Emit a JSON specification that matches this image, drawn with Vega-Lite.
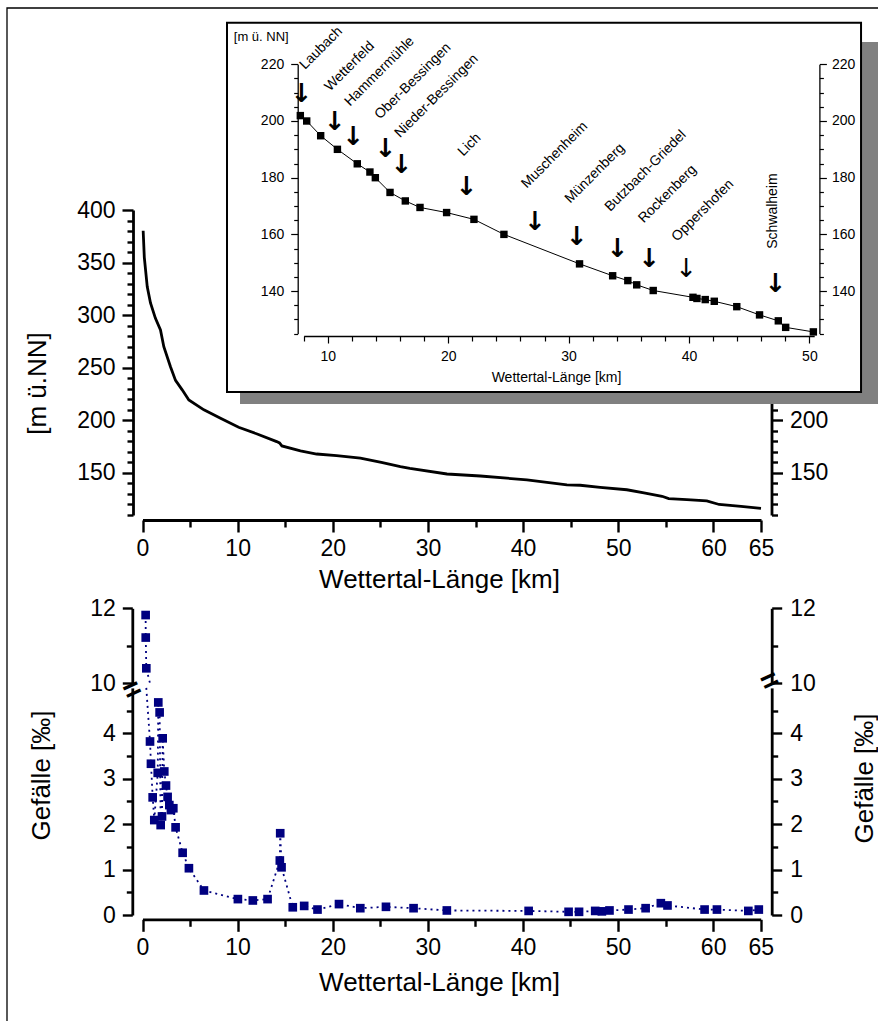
{
  "$schema": "https://vega.github.io/schema/vega-lite/v6.json",
  "width": 871,
  "height": 1013,
  "autosize": "none",
  "padding": {"left": 7, "top": 8, "right": 0, "bottom": 0},
  "background": "white",
  "config": {
    "view": {"stroke": null},
    "axis": {"grid": false, "labelFont": "Liberation Sans", "titleFont": "Liberation Sans", "labelColor": "black", "titleColor": "black", "domainColor": "black", "tickColor": "black", "labelFlush": false, "labelOverlap": false, "titleFontWeight": "normal"},
    "text": {"font": "Liberation Sans", "color": "black"}
  },
  "datasets": {
    "profile": [
      {"km": 0.07, "h": 380.3}, {"km": 0.19, "h": 355}, {"km": 0.5, "h": 327}, {"km": 0.84, "h": 311.6},
      {"km": 1.36, "h": 297}, {"km": 1.89, "h": 286}, {"km": 2.24, "h": 270}, {"km": 2.94, "h": 251},
      {"km": 3.47, "h": 238}, {"km": 4.17, "h": 229}, {"km": 4.87, "h": 219.4}, {"km": 6.45, "h": 210},
      {"km": 8.2, "h": 202}, {"km": 10.1, "h": 193.4}, {"km": 12.05, "h": 187}, {"km": 14.1, "h": 179.8},
      {"km": 14.4, "h": 178.5}, {"km": 14.65, "h": 175.7}, {"km": 16.6, "h": 171}, {"km": 18.3, "h": 168},
      {"km": 20.4, "h": 166.5}, {"km": 22.9, "h": 164}, {"km": 25.1, "h": 160}, {"km": 27.1, "h": 156},
      {"km": 28.1, "h": 154.4}, {"km": 32.0, "h": 149}, {"km": 35.5, "h": 147.1}, {"km": 40.4, "h": 143.4},
      {"km": 44.6, "h": 138.6}, {"km": 46.0, "h": 138.3}, {"km": 48.1, "h": 136.3}, {"km": 50.9, "h": 134},
      {"km": 52.7, "h": 131}, {"km": 54.6, "h": 127.8}, {"km": 55.3, "h": 125.6}, {"km": 57.2, "h": 124.6},
      {"km": 59.3, "h": 123.4}, {"km": 60.6, "h": 120}, {"km": 62.9, "h": 118.2}, {"km": 65, "h": 116.4}
    ],
    "inset": [
      {"km": 7.72, "h": 201.9}, {"km": 8.25, "h": 200}, {"km": 9.41, "h": 194.8}, {"km": 10.8, "h": 190},
      {"km": 12.45, "h": 184.9}, {"km": 13.5, "h": 182}, {"km": 13.95, "h": 180}, {"km": 15.17, "h": 174.8},
      {"km": 16.44, "h": 171.8}, {"km": 17.66, "h": 169.5}, {"km": 19.87, "h": 167.7}, {"km": 22.14, "h": 165.3},
      {"km": 24.63, "h": 160}, {"km": 30.91, "h": 149.6}, {"km": 33.66, "h": 145.4}, {"km": 34.92, "h": 143.7},
      {"km": 35.66, "h": 142.2}, {"km": 37.03, "h": 140.2}, {"km": 40.33, "h": 137.8}, {"km": 40.66, "h": 137.4},
      {"km": 41.35, "h": 137}, {"km": 42.1, "h": 136.4}, {"km": 43.97, "h": 134.5}, {"km": 45.86, "h": 131.6},
      {"km": 47.42, "h": 129.5}, {"km": 48.03, "h": 127.2}, {"km": 50.33, "h": 125.6}
    ],
    "orte": [
      {"ort": "Laubach", "km": 7.83, "tip": 206.8, "lkm": 8.11, "lh": 218.0},
      {"ort": "Wetterfeld", "km": 10.6, "tip": 196.8, "lkm": 10.18, "lh": 210.3},
      {"ort": "Hammermühle", "km": 12.12, "tip": 191.5, "lkm": 11.84, "lh": 205.0},
      {"ort": "Ober-Bessingen", "km": 14.81, "tip": 187.4, "lkm": 14.34, "lh": 200.4},
      {"ort": "Nieder-Bessingen", "km": 16.14, "tip": 181.8, "lkm": 16.0, "lh": 193.9},
      {"ort": "Lich", "km": 21.54, "tip": 173.9, "lkm": 21.25, "lh": 187.4},
      {"ort": "Muschenheim", "km": 27.22, "tip": 161.4, "lkm": 26.52, "lh": 176.1},
      {"ort": "Münzenberg", "km": 30.69, "tip": 156.1, "lkm": 30.13, "lh": 170.8},
      {"ort": "Butzbach-Griedel", "km": 34.07, "tip": 152.0, "lkm": 33.46, "lh": 167.9},
      {"ort": "Rockenberg", "km": 36.71, "tip": 148.4, "lkm": 36.24, "lh": 163.8},
      {"ort": "Oppershofen", "km": 39.77, "tip": 144.9, "lkm": 39.01, "lh": 157.3},
      {"ort": "Schwalheim", "km": 47.2, "tip": 139.5, "lkm": 46.94, "lh": 154.9}
    ],
    "gef": [
      {"km": 0.33, "g": 11.82}, {"km": 0.34, "g": 11.22}, {"km": 0.4, "g": 10.4}, {"km": 0.79, "g": 3.82},
      {"km": 0.89, "g": 3.33}, {"km": 1.07, "g": 2.59}, {"km": 1.24, "g": 2.09}, {"km": 1.6, "g": 3.13},
      {"km": 1.66, "g": 4.68}, {"km": 1.8, "g": 4.46}, {"km": 1.91, "g": 1.98}, {"km": 2.05, "g": 2.17},
      {"km": 2.12, "g": 3.89}, {"km": 2.29, "g": 3.16}, {"km": 2.47, "g": 2.85}, {"km": 2.64, "g": 2.6},
      {"km": 2.82, "g": 2.42}, {"km": 2.99, "g": 2.31}, {"km": 3.24, "g": 2.35}, {"km": 3.48, "g": 1.93},
      {"km": 4.22, "g": 1.37}, {"km": 4.88, "g": 1.03}, {"km": 6.46, "g": 0.54}, {"km": 10.03, "g": 0.35},
      {"km": 11.6, "g": 0.32}, {"km": 13.15, "g": 0.35}, {"km": 14.44, "g": 1.2}, {"km": 14.48, "g": 1.8},
      {"km": 14.62, "g": 1.05}, {"km": 15.8, "g": 0.17}, {"km": 17.0, "g": 0.2}, {"km": 18.4, "g": 0.12},
      {"km": 20.66, "g": 0.24}, {"km": 22.9, "g": 0.15}, {"km": 25.6, "g": 0.18}, {"km": 28.5, "g": 0.15},
      {"km": 32.0, "g": 0.1}, {"km": 40.6, "g": 0.09}, {"km": 44.8, "g": 0.07}, {"km": 45.9, "g": 0.07},
      {"km": 47.6, "g": 0.09}, {"km": 48.3, "g": 0.08}, {"km": 49.1, "g": 0.1}, {"km": 51.1, "g": 0.12},
      {"km": 52.9, "g": 0.15}, {"km": 54.5, "g": 0.26}, {"km": 55.2, "g": 0.21}, {"km": 59.1, "g": 0.12},
      {"km": 60.4, "g": 0.12}, {"km": 63.7, "g": 0.09}, {"km": 64.8, "g": 0.12}
    ]
  },
  "resolve": {"scale": {"x": "independent", "y": "independent"}},
  "layer": [
    {
      "data": {"values": [{}]},
      "mark": {"type": "rect", "fill": null, "filled": false, "stroke": "black", "strokeWidth": 1.3},
      "encoding": {
        "x": {"datum": -14.24, "type": "quantitative", "scale": {"domain": [0, 65], "range": [135.5, 754], "nice": false, "zero": false}, "axis": null},
        "x2": {"datum": 80.34},
        "y": {"datum": 592.07, "type": "quantitative", "scale": {"domain": [110, 400], "range": [507, 202], "nice": false, "zero": false}, "axis": null},
        "y2": {"datum": -453.84}
      }
    },
    {
      "data": {"name": "profile"},
      "mark": {"type": "line", "color": "black", "strokeWidth": 2.8},
      "encoding": {
        "x": {"field": "km", "type": "quantitative",
          "scale": {"domain": [0, 65], "range": [135.5, 754], "nice": false, "zero": false},
          "axis": {"orient": "bottom", "offset": -501, "values": [0,5,10,15,20,25,30,35,40,45,50,55,60,65],
            "labelExpr": "datum.value % 10 === 0 || datum.value === 65 ? format(datum.value, 'd') : ''",
            "tickSize": {"condition": {"test": "datum.value % 10 === 0 || datum.value === 65", "value": 12}, "value": 7},
            "tickWidth": 2.4, "domainWidth": 2.8, "labelFontSize": 23, "labelPadding": 5,
            "title": "Wettertal-Länge [km]", "titleFontSize": 26, "titleX": 432, "titleY": 59, "titleBaseline": "middle"}},
        "y": {"field": "h", "type": "quantitative",
          "scale": {"domain": [110, 400], "range": [507, 202], "nice": false, "zero": false},
          "axis": {"orient": "left", "offset": -126, "values": [110,120,130,140,150,160,170,180,190,200,210,220,230,240,250,260,270,280,290,300,310,320,330,340,350,360,370,380,390,400],
            "labelExpr": "datum.value % 50 === 0 ? format(datum.value, 'd') : ''",
            "tickSize": {"condition": {"test": "datum.value % 50 === 0", "value": 11}, "value": 6},
            "tickWidth": 2.4, "domainWidth": 2.8, "labelFontSize": 23, "labelPadding": 7,
            "title": "[m ü.NN]", "titleFontSize": 26, "titleAngle": -90, "titleX": -95.5, "titleY": 375, "titleBaseline": "middle", "titleAlign": "center"}}
      }
    },
    {
      "data": {"name": "profile"},
      "mark": {"type": "line", "strokeOpacity": 0},
      "encoding": {
        "x": {"field": "km", "type": "quantitative", "scale": {"domain": [0, 65], "range": [135.5, 754], "nice": false, "zero": false}, "axis": null},
        "y": {"field": "h", "type": "quantitative",
          "scale": {"domain": [110, 400], "range": [507, 202], "nice": false, "zero": false},
          "axis": {"orient": "right", "offset": -106.5, "values": [110,120,130,140,150,160,170,180,190,200,210,220,230,240,250,260,270,280,290,300,310,320,330,340,350,360,370,380,390,400],
            "labelExpr": "datum.value % 50 === 0 ? format(datum.value, 'd') : ''",
            "tickSize": {"condition": {"test": "datum.value % 50 === 0", "value": 11}, "value": 6},
            "tickWidth": 2.4, "domainWidth": 2.8, "labelFontSize": 23, "labelPadding": 7, "title": null}}
      }
    },
    {
      "data": {"values": [{}]},
      "mark": {"type": "rect", "fill": "#808080"},
      "encoding": {
        "x": {"datum": 2.71, "type": "quantitative", "scale": {"domain": [8, 50.4], "range": [296.7, 807.2], "nice": false, "zero": false}, "axis": null},
        "x2": {"datum": 55.9},
        "y": {"datum": 227.9, "type": "quantitative", "scale": {"domain": [125, 220], "range": [325.6, 56.3], "nice": false, "zero": false}, "axis": null},
        "y2": {"datum": 100.2}
      }
    },
    {
      "data": {"values": [{}]},
      "mark": {"type": "rect", "fill": "white", "stroke": "black", "strokeWidth": 2},
      "encoding": {
        "x": {"datum": 1.63, "type": "quantitative", "scale": {"domain": [8, 50.4], "range": [296.7, 807.2], "nice": false, "zero": false}, "axis": null},
        "x2": {"datum": 54.29},
        "y": {"datum": 234.67, "type": "quantitative", "scale": {"domain": [125, 220], "range": [325.6, 56.3], "nice": false, "zero": false}, "axis": null},
        "y2": {"datum": 104.41}
      }
    },
    {
      "data": {"name": "inset"},
      "mark": {"type": "line", "color": "black", "strokeWidth": 1},
      "encoding": {
        "x": {"field": "km", "type": "quantitative",
          "scale": {"domain": [8, 50.4], "range": [296.7, 807.2], "nice": false, "zero": false},
          "axis": {"orient": "bottom", "offset": -685, "zindex": 1, "values": [8,10,12,14,16,18,20,22,24,26,28,30,32,34,36,38,40,42,44,46,48,50],
            "labelExpr": "datum.value % 10 === 0 ? format(datum.value, 'd') : ''",
            "tickSize": {"condition": {"test": "datum.value % 10 === 0", "value": 7}, "value": 5},
            "tickWidth": 1.2, "domainWidth": 1.3, "labelFontSize": 14, "labelPadding": 6,
            "title": "Wettertal-Länge [km]", "titleFontSize": 14, "titleX": 549, "titleY": 41.7, "titleBaseline": "middle"}},
        "y": {"field": "h", "type": "quantitative",
          "scale": {"domain": [125, 220], "range": [325.6, 56.3], "nice": false, "zero": false},
          "axis": {"orient": "left", "offset": -290.7, "zindex": 1, "values": [125,130,135,140,145,150,155,160,165,170,175,180,185,190,195,200,205,210,215,220],
            "labelExpr": "datum.value % 20 === 0 ? format(datum.value, 'd') : ''",
            "tickSize": {"condition": {"test": "datum.value % 20 === 0", "value": 7}, "value": 4},
            "tickWidth": 1.2, "domainWidth": 1.3, "labelFontSize": 14, "labelPadding": 7,
            "title": "[m ü. NN]", "titleFontSize": 13, "titleAngle": 0, "titleAlign": "left", "titleBaseline": "middle", "titleX": -64.4, "titleY": 28.7}}
      }
    },
    {
      "data": {"name": "inset"},
      "mark": {"type": "point", "shape": "square", "filled": true, "color": "black", "size": 55, "opacity": 1},
      "encoding": {
        "x": {"field": "km", "type": "quantitative", "scale": {"domain": [8, 50.4], "range": [296.7, 807.2], "nice": false, "zero": false}, "axis": null},
        "y": {"field": "h", "type": "quantitative",
          "scale": {"domain": [125, 220], "range": [325.6, 56.3], "nice": false, "zero": false},
          "axis": {"orient": "right", "offset": -58.6, "zindex": 1, "values": [125,130,135,140,145,150,155,160,165,170,175,180,185,190,195,200,205,210,215,220],
            "labelExpr": "datum.value % 20 === 0 ? format(datum.value, 'd') : ''",
            "tickSize": {"condition": {"test": "datum.value % 20 === 0", "value": 7}, "value": 4},
            "tickWidth": 1.2, "domainWidth": 1.3, "labelFontSize": 14, "labelPadding": 5, "title": null}}
      }
    },
    {
      "data": {"name": "orte"},
      "transform": [{"filter": "datum.ort !== 'Oppershofen'"}],
      "mark": {"type": "text", "text": "↓", "font": "DejaVu Sans", "fontSize": 26, "fontWeight": "bold", "align": "center", "baseline": "alphabetic", "color": "black"},
      "encoding": {
        "x": {"field": "km", "type": "quantitative", "scale": {"domain": [8, 50.4], "range": [296.7, 807.2], "nice": false, "zero": false}, "axis": null},
        "y": {"field": "tip", "type": "quantitative", "scale": {"domain": [125, 220], "range": [325.6, 56.3], "nice": false, "zero": false}, "axis": null}
      }
    },
    {
      "data": {"name": "orte"},
      "transform": [{"filter": "datum.ort === 'Oppershofen'"}],
      "mark": {"type": "text", "text": "↓", "font": "DejaVu Sans", "fontSize": 26, "fontWeight": "normal", "align": "center", "baseline": "alphabetic", "color": "black"},
      "encoding": {
        "x": {"field": "km", "type": "quantitative", "scale": {"domain": [8, 50.4], "range": [296.7, 807.2], "nice": false, "zero": false}, "axis": null},
        "y": {"field": "tip", "type": "quantitative", "scale": {"domain": [125, 220], "range": [325.6, 56.3], "nice": false, "zero": false}, "axis": null}
      }
    },
    {
      "data": {"name": "orte"},
      "transform": [{"filter": "datum.ort !== 'Schwalheim'"}],
      "mark": {"type": "text", "fontSize": 14, "angle": -45, "align": "left", "baseline": "alphabetic"},
      "encoding": {
        "text": {"field": "ort"},
        "x": {"field": "lkm", "type": "quantitative", "scale": {"domain": [8, 50.4], "range": [296.7, 807.2], "nice": false, "zero": false}, "axis": null},
        "y": {"field": "lh", "type": "quantitative", "scale": {"domain": [125, 220], "range": [325.6, 56.3], "nice": false, "zero": false}, "axis": null}
      }
    },
    {
      "data": {"name": "orte"},
      "transform": [{"filter": "datum.ort === 'Schwalheim'"}],
      "mark": {"type": "text", "fontSize": 14, "angle": -90, "align": "left", "baseline": "middle"},
      "encoding": {
        "text": {"field": "ort"},
        "x": {"field": "lkm", "type": "quantitative", "scale": {"domain": [8, 50.4], "range": [296.7, 807.2], "nice": false, "zero": false}, "axis": null},
        "y": {"field": "lh", "type": "quantitative", "scale": {"domain": [125, 220], "range": [325.6, 56.3], "nice": false, "zero": false}, "axis": null}
      }
    },
    {
      "data": {"name": "gef"},
      "transform": [{"filter": "datum.km <= 0.8"}],
      "mark": {"type": "line", "color": "#000080", "strokeWidth": 1.8, "strokeDash": [2, 4]},
      "encoding": {
        "x": {"field": "km", "type": "quantitative", "scale": {"domain": [0, 65], "range": [135.5, 753.7], "nice": false, "zero": false}, "axis": null},
        "y": {"field": "g", "type": "quantitative", "scale": {"domain": [10, 12], "range": [675.3, 600.3], "nice": false, "zero": false, "clamp": true}, "axis": null}
      }
    },
    {
      "data": {"name": "gef"},
      "transform": [{"filter": "datum.g >= 10"}],
      "mark": {"type": "point", "shape": "square", "filled": true, "color": "#000080", "size": 75, "opacity": 1},
      "encoding": {
        "x": {"field": "km", "type": "quantitative", "scale": {"domain": [0, 65], "range": [135.5, 753.7], "nice": false, "zero": false}, "axis": null},
        "y": {"field": "g", "type": "quantitative",
          "scale": {"domain": [10, 12], "range": [675.3, 600.3], "nice": false, "zero": false},
          "axis": {"orient": "left", "offset": -125.3, "values": [10, 11, 12],
            "labelExpr": "datum.value % 2 === 0 ? format(datum.value, 'd') : ''",
            "tickSize": {"condition": {"test": "datum.value % 2 === 0", "value": 10}, "value": 6},
            "tickWidth": 2.4, "domainWidth": 2.8, "labelFontSize": 23, "labelPadding": 7, "title": null}}
      }
    },
    {
      "data": {"name": "gef"},
      "transform": [{"filter": "datum.g >= 10"}],
      "mark": {"type": "point", "opacity": 0},
      "encoding": {
        "x": {"field": "km", "type": "quantitative", "scale": {"domain": [0, 65], "range": [135.5, 753.7], "nice": false, "zero": false}, "axis": null},
        "y": {"field": "g", "type": "quantitative",
          "scale": {"domain": [10, 12], "range": [675.3, 600.3], "nice": false, "zero": false},
          "axis": {"orient": "right", "offset": -106.3, "values": [10, 11, 12],
            "labelExpr": "datum.value % 2 === 0 ? format(datum.value, 'd') : ''",
            "tickSize": {"condition": {"test": "datum.value % 2 === 0", "value": 10}, "value": 6},
            "tickWidth": 2.4, "domainWidth": 2.8, "labelFontSize": 23, "labelPadding": 8, "title": null}}
      }
    },
    {
      "data": {"name": "gef"},
      "transform": [{"filter": "datum.km >= 0.39"}],
      "mark": {"type": "line", "color": "#000080", "strokeWidth": 1.8, "strokeDash": [2, 4]},
      "encoding": {
        "x": {"field": "km", "type": "quantitative",
          "scale": {"domain": [0, 65], "range": [135.5, 753.7], "nice": false, "zero": false},
          "axis": {"orient": "bottom", "offset": -101.7, "values": [0,5,10,15,20,25,30,35,40,45,50,55,60,65],
            "labelExpr": "datum.value % 10 === 0 || datum.value === 65 ? format(datum.value, 'd') : ''",
            "tickSize": {"condition": {"test": "datum.value % 10 === 0 || datum.value === 65", "value": 12}, "value": 7},
            "tickWidth": 2.4, "domainWidth": 2.8, "labelFontSize": 23, "labelPadding": 5,
            "title": "Wettertal-Länge [km]", "titleFontSize": 26, "titleX": 432, "titleY": 62.7, "titleBaseline": "middle"}},
        "y": {"field": "g", "type": "quantitative",
          "scale": {"domain": [0, 5], "range": [907, 679.9], "nice": false, "zero": false, "clamp": true},
          "axis": {"orient": "left", "offset": -125.3, "values": [0,0.5,1,1.5,2,2.5,3,3.5,4,4.5],
            "labelExpr": "datum.value % 1 === 0 ? format(datum.value, 'd') : ''",
            "tickSize": {"condition": {"test": "datum.value % 1 === 0", "value": 10}, "value": 6},
            "tickWidth": 2.4, "domainWidth": 2.8, "labelFontSize": 23, "labelPadding": 7,
            "title": "Gefälle [‰]", "titleFontSize": 26, "titleAngle": -90, "titleX": -91.3, "titleY": 767, "titleBaseline": "middle", "titleAlign": "center"}}
      }
    },
    {
      "data": {"name": "gef"},
      "transform": [{"filter": "datum.g < 10"}],
      "mark": {"type": "point", "shape": "square", "filled": true, "color": "#000080", "size": 75, "opacity": 1},
      "encoding": {
        "x": {"field": "km", "type": "quantitative", "scale": {"domain": [0, 65], "range": [135.5, 753.7], "nice": false, "zero": false}, "axis": null},
        "y": {"field": "g", "type": "quantitative",
          "scale": {"domain": [0, 5], "range": [907, 679.9], "nice": false, "zero": false},
          "axis": {"orient": "right", "offset": -106.3, "values": [0,0.5,1,1.5,2,2.5,3,3.5,4,4.5],
            "labelExpr": "datum.value % 1 === 0 ? format(datum.value, 'd') : ''",
            "tickSize": {"condition": {"test": "datum.value % 1 === 0", "value": 10}, "value": 6},
            "tickWidth": 2.4, "domainWidth": 2.8, "labelFontSize": 23, "labelPadding": 8,
            "title": "Gefälle [‰]", "titleFontSize": 26, "titleAngle": -90, "titleX": 92.3, "titleY": 770, "titleBaseline": "middle", "titleAlign": "center"}}
      }
    },
    {
      "data": {"values": [{}]},
      "mark": {"type": "text", "text": "=", "fontSize": 30, "fontWeight": "bold", "angle": -25, "align": "center", "baseline": "middle", "dx": -10.2, "dy": -2},
      "encoding": {
        "x": {"datum": 0, "type": "quantitative", "scale": {"domain": [0, 65], "range": [135.5, 753.7], "nice": false, "zero": false}, "axis": null},
        "y": {"datum": 5, "type": "quantitative", "scale": {"domain": [0, 5], "range": [907, 679.9], "nice": false, "zero": false}, "axis": null}
      }
    },
    {
      "data": {"values": [{}]},
      "mark": {"type": "text", "text": "=", "fontSize": 30, "fontWeight": "bold", "angle": -25, "align": "center", "baseline": "middle", "dx": 11, "dy": -2},
      "encoding": {
        "x": {"datum": 65, "type": "quantitative", "scale": {"domain": [0, 65], "range": [135.5, 753.7], "nice": false, "zero": false}, "axis": null},
        "y": {"datum": 5, "type": "quantitative", "scale": {"domain": [0, 5], "range": [907, 679.9], "nice": false, "zero": false}, "axis": null}
      }
    }
  ]
}
